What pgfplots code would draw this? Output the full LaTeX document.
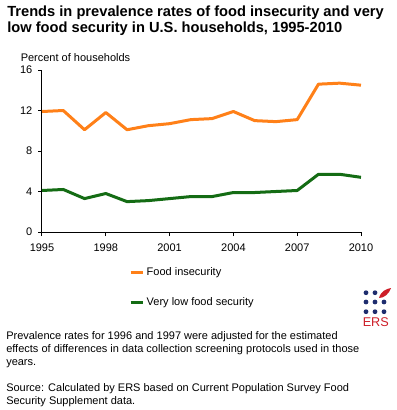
\documentclass[border=0pt]{standalone}
\usepackage{pgfplots}
\pgfplotsset{compat=1.18}
\usepackage{fontspec}
\setmainfont{Liberation Sans}
\definecolor{fiorange}{RGB}{255,128,24}
\definecolor{vlgreen}{RGB}{20,108,20}
\definecolor{ersblue}{RGB}{30,45,110}
\definecolor{ersred}{RGB}{205,30,40}
\newcommand{\smallfont}{\fontsize{8.25pt}{10pt}\selectfont}
\begin{document}
\begin{tikzpicture}
\begin{scope}[x=0.75pt,y=-0.75pt]
\path[use as bounding box] (0,0) rectangle (396,410);
\node[anchor=base west, inner sep=0pt, font=\fontsize{11pt}{13pt}\selectfont\bfseries] at (7,17) {Trends in prevalence rates of food insecurity and very};
\node[anchor=base west, inner sep=0pt, font=\fontsize{11pt}{13pt}\selectfont\bfseries] at (7,32.3) {low food security in U.S. households, 1995-2010};
\node[anchor=base west, inner sep=0pt, font=\smallfont] at (20.5,61) {Percent of households};
\node[anchor=base west, inner sep=0pt, font=\smallfont] at (6,339) {Prevalence rates for 1996 and 1997 were adjusted for the estimated};
\node[anchor=base west, inner sep=0pt, font=\smallfont] at (6,352) {effects of differences in data collection screening protocols used in those};
\node[anchor=base west, inner sep=0pt, font=\smallfont] at (6,365) {years.};
\node[anchor=base west, inner sep=0pt, font=\smallfont] at (6,391) {Source: Calculated by ERS based on Current Population Survey Food};
\node[anchor=base west, inner sep=0pt, font=\smallfont] at (6,404) {Security Supplement data.};
% ERS logo
\foreach \c/\r in {366/292.7,375/292.7,366/302,375/302,384/302,366/311.7,375/311.7,384/311.7}
  \fill[ersblue] (\c,\r) circle (2.4);
\fill[ersred] (379,298) .. controls (381,291) and (386,289) .. (391,288) .. controls (389,294) and (384,298) .. (379,298);
\node[anchor=base west, inner sep=0pt, text=ersred, font=\fontsize{9.5pt}{11pt}\selectfont] at (362.5,326.7) {ERS};
\end{scope}
\begin{axis}[
  at={(31.5pt,-174pt)}, anchor=south west,
  scale only axis, width=239.25pt, height=121.5pt,
  xmin=1995, xmax=2010, ymin=0, ymax=16,
  xtick={1995,1998,2001,2004,2007,2010},
  ytick={0,4,8,12,16},
  axis x line*=bottom, axis y line*=left,
  axis line style={-, line width=0.75pt, black},
  tick align=outside, major tick length=3pt,
  tick style={black, line width=0.75pt},
  tick label style={font=\smallfont},
  x tick label style={yshift=-2.5pt},
  y tick label style={xshift=-0.75pt},
  /pgf/number format/assume math mode=true,
  /pgf/number format/1000 sep={},
  legend style={at={(axis description cs:0.272,-0.2)}, anchor=north west,
    draw=none, fill=none, inner sep=0pt, row sep=11pt,
    font=\smallfont, cells={anchor=west}},
  legend cell align=left,
  legend image code/.code={\draw[#1, line width=2.25pt] (0pt,0pt) -- (9pt,0pt);},
]
\addplot[fiorange, line width=2.25pt, line join=round] coordinates {
(1995,11.9) (1996,12.0) (1997,10.1) (1998,11.8) (1999,10.1) (2000,10.5)
(2001,10.7) (2002,11.1) (2003,11.2) (2004,11.9) (2005,11.0) (2006,10.9)
(2007,11.1) (2008,14.6) (2009,14.7) (2010,14.5)};
\addlegendentry{Food insecurity}
\addplot[vlgreen, line width=2.25pt, line join=round] coordinates {
(1995,4.1) (1996,4.2) (1997,3.3) (1998,3.8) (1999,3.0) (2000,3.1)
(2001,3.3) (2002,3.5) (2003,3.5) (2004,3.9) (2005,3.9) (2006,4.0)
(2007,4.1) (2008,5.7) (2009,5.7) (2010,5.4)};
\addlegendentry{Very low food security}
\end{axis}
\end{tikzpicture}
\end{document}
